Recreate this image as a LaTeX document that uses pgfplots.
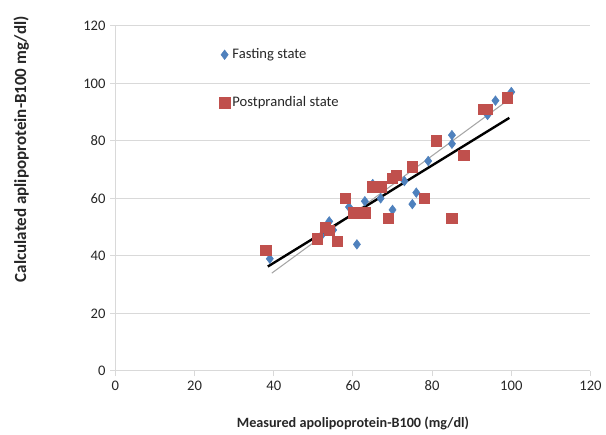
\documentclass[border=0pt]{standalone}
\usepackage{pgfplots}
\pgfplotsset{compat=1.18}
\usetikzlibrary{calc}
\usepackage{fontspec}
\setmainfont{Carlito}
\definecolor{fastblue}{HTML}{4F81BD}
\definecolor{postred}{HTML}{C0504D}
\definecolor{gridgray}{HTML}{D9D9D9}

\begin{document}
\begin{tikzpicture}
\begin{axis}[
    scale only axis,
    width=358pt, height=260pt,
    xmin=0, xmax=120, ymin=0, ymax=120,
    xtick={0,20,...,120}, ytick={0,20,...,120},
    axis x line*=bottom, axis y line*=left,
    axis line style={gridgray, line width=0.8pt, -},
    ymajorgrids, grid style={gridgray, line width=0.8pt},
    tick style={gridgray, line width=0.8pt},
    tick align=outside, major tick length=4pt,
    /pgf/number format/assume math mode=true,
    ticklabel style={font=\fontsize{11}{13}\selectfont, text=black!85},
    xlabel={\textbf{Measured apolipoprotein-B100 (mg/dl)}},
    ylabel={\textbf{Calculated aplipoprotein-B100 mg/dl)}},
    xlabel style={font=\fontsize{10.7}{12}\selectfont, text=black!85, yshift=-13pt},
    ylabel style={font=\fontsize{12.8}{14}\selectfont, text=black!85, yshift=34pt, xshift=37pt},
    legend style={draw=none, fill=none, at={(0.21,0.95)}, anchor=north west,
        font=\fontsize{11}{13}\selectfont, row sep=23pt, text=black!85},
    legend cell align=left,
]
% fasting state
\addplot[only marks, mark=diamond*, mark size=3.6pt, color=fastblue] coordinates {
    (39,39) (52,47) (54,52) (55,49) (59,57) (61,44) (63,59) (65,65) (66,64)
    (67,60) (70,56) (73,66) (75,58) (76,62) (79,73) (85,82) (85,79)
    (94,89) (96,94) (100,97)
};
\addlegendentry{Fasting state}
% postprandial state
\addplot[only marks, mark=square*, mark size=3.9pt, color=postred] coordinates {
    (38,42) (51,46) (53,50) (54,49) (56,45) (58,60) (60,55) (63,55)
    (65,64) (67,64) (69,53) (70,67) (71,68) (75,71) (78,60) (81,80)
    (85,53) (88,75) (93,91) (94,91) (99,95)
};
\addlegendentry{Postprandial state}
% trend lines
\addplot[gray!70, line width=0.8pt, forget plot] coordinates {(39.5,34) (100,95)};
\addplot[black, line width=1.8pt, forget plot] coordinates {(38.5,36.3) (99.5,88)};
\end{axis}
\path (current axis.south west) ++(-87pt,-44.25pt) rectangle ($(current axis.north east)+(9.75pt,19.5pt)$);
\end{tikzpicture}
\end{document}
